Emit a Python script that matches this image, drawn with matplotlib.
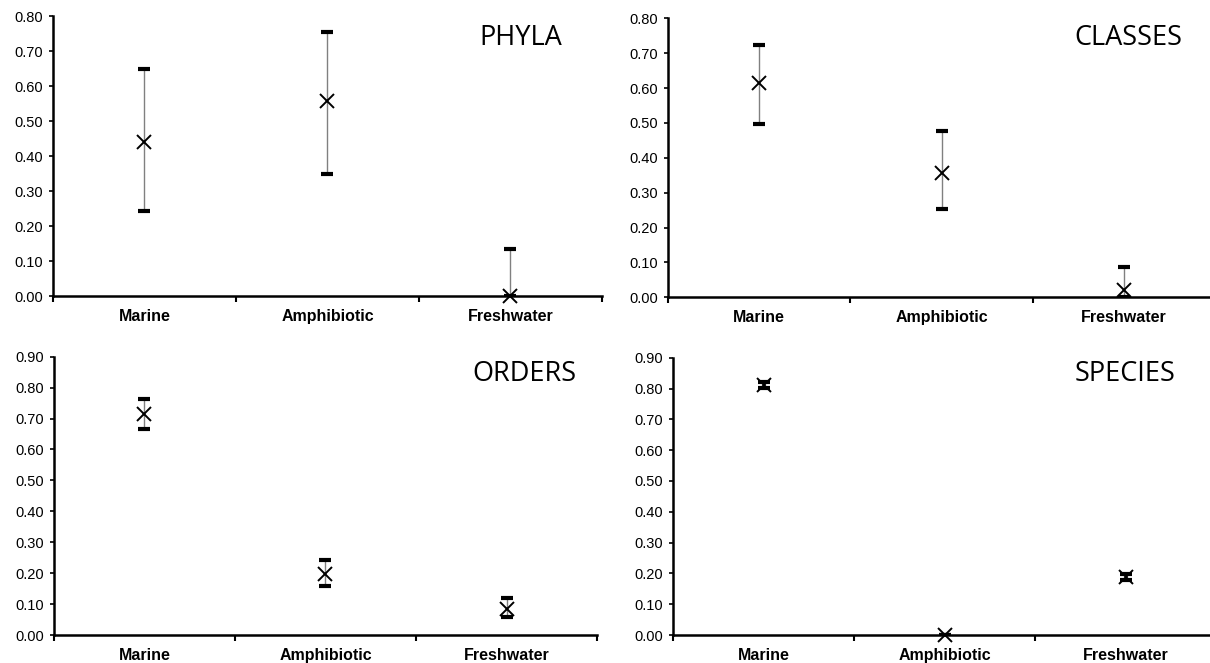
import matplotlib

matplotlib.use("Agg")
import matplotlib.pyplot as plt
from matplotlib.ticker import FixedLocator

categories = ["Marine", "Amphibiotic", "Freshwater"]
panel_names = ["PHYLA", "CLASSES", "ORDERS", "SPECIES"]

# mean values and error bar ends per panel (Marine, Amphibiotic, Freshwater)
phyla_mean = [0.44, 0.558, 0.0]
phyla_low = [0.243, 0.348, 0.0]
phyla_high = [0.648, 0.753, 0.135]

classes_mean = [0.615, 0.357, 0.021]
classes_low = [0.498, 0.252, 0.0]
classes_high = [0.723, 0.476, 0.088]

orders_mean = [0.715, 0.197, 0.083]
orders_low = [0.667, 0.158, 0.059]
orders_high = [0.763, 0.243, 0.119]

species_mean = [0.811, 0.0, 0.188]
species_low = [0.802, 0.0, 0.179]
species_high = [0.820, 0.0, 0.197]

y_max = [0.80, 0.80, 0.90, 0.90]

means = [phyla_mean, classes_mean, orders_mean, species_mean]
lows = [phyla_low, classes_low, orders_low, species_low]
highs = [phyla_high, classes_high, orders_high, species_high]

# layout: [left, bottom, width, height] in figure fraction, and title anchor
axes_rects = [
    [0.0438, 0.5535, 0.4537, 0.4223],
    [0.5521, 0.5516, 0.4521, 0.4208],
    [0.0446, 0.0422, 0.4488, 0.4198],
    [0.5562, 0.0422, 0.4488, 0.4183],
]
title_pos = [(0.927, 0.921), (0.940, 0.931), (0.963, 0.938), (0.925, 0.941)]

plt.rcParams["font.family"] = ["Liberation Sans", "DejaVu Sans"]

fig = plt.figure(figsize=(12.1, 6.63), dpi=100)

for i in range(4):
    ax = fig.add_axes(axes_rects[i])
    x = range(1, len(categories) + 1)
    m = means[i]
    err_lo = [mv - lv for mv, lv in zip(m, lows[i])]
    err_hi = [hv - mv for mv, hv in zip(m, highs[i])]
    eb = ax.errorbar(x, m, yerr=[err_lo, err_hi], fmt="none", ecolor="#808080",
                     elinewidth=1.0, capsize=4, capthick=3, zorder=2)
    for cap in eb[1]:
        cap.set_color("black")
        cap.set_markeredgecolor("black")
        cap.set_markerfacecolor("black")
    ax.plot(x, m, linestyle="none", marker="x", markersize=10,
            markeredgewidth=1.4, color="black", zorder=3, clip_on=False)

    ax.set_xlim(0.5, 3.5)
    ax.set_ylim(0, y_max[i])
    yt = [k / 10 for k in range(int(round(y_max[i] * 10)) + 1)]
    ax.set_yticks(yt)
    ax.set_yticklabels([f"{v:.2f}" for v in yt], fontsize=10.5)
    ax.set_xticks(list(x))
    ax.set_xticklabels(categories, fontsize=11.5, fontweight="bold")
    ax.xaxis.set_minor_locator(FixedLocator([0.5, 1.5, 2.5, 3.5]))
    ax.tick_params(axis="x", which="major", length=0, pad=9)
    ax.tick_params(axis="x", which="minor", length=4, width=1.5, direction="out")
    ax.tick_params(axis="y", length=3, width=1.2, direction="out", pad=4)

    for side in ["top", "right"]:
        ax.spines[side].set_visible(False)
    for side in ["left", "bottom"]:
        ax.spines[side].set_linewidth(1.8)
        ax.spines[side].set_color("black")

    tx, ty = title_pos[i]
    ax.text(tx, ty, panel_names[i], transform=ax.transAxes, ha="right",
            va="center", fontsize=19.5, family=["Open Sans", "DejaVu Sans"])

fig.savefig("out.png", dpi=100)
